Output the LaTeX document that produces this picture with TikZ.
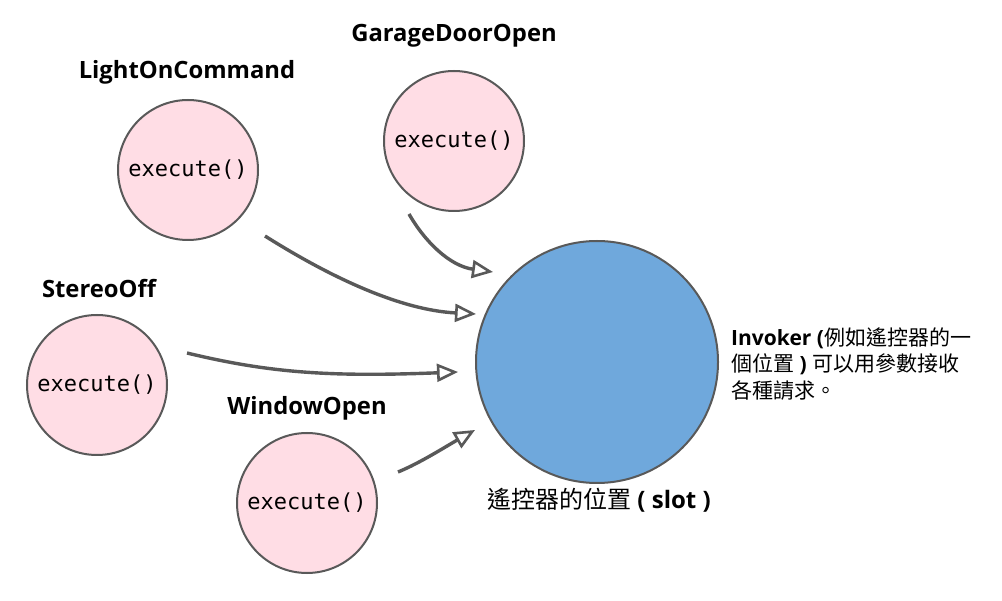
\documentclass[tikz,border=0pt]{standalone}
\usepackage{fontspec}
\setmainfont{Open Sans}
\newfontfamily\cjk{Noto Sans CJK TC}
\newfontfamily\monof{DejaVu Sans Mono}
\usetikzlibrary{arrows.meta}
\definecolor{pinkfill}{RGB}{255,221,229}
\definecolor{bluefill}{RGB}{111,168,220}
\definecolor{edgegray}{RGB}{89,89,89}
\begin{document}
\begin{tikzpicture}[x=1pt,y=-1pt,
  cmd/.style={circle, draw=edgegray, line width=2pt, fill=pinkfill, minimum size=140pt, inner sep=0pt, font=\monof\fontsize{22}{26}\selectfont},
  slotc/.style={circle, draw=edgegray, line width=2pt, fill=bluefill, minimum size=242pt, inner sep=0pt},
  lbl/.style={font=\bfseries\fontsize{23.8}{28}\selectfont, inner sep=0pt},
  conn/.style={draw=edgegray, line width=3.4pt, -{Triangle[length=21pt, width=18pt, fill=white, line width=2.6pt]}}]
\useasboundingbox (0,0) rectangle (1002,601);
% circles
\node[cmd] (light) at (188,170) {execute()};
\node[cmd] (garage) at (454,141) {execute()};
\node[cmd] (stereo) at (97,385) {execute()};
\node[cmd] (window) at (307,503) {execute()};
\node[slotc] (slot) at (597,362) {};
% labels
\node[lbl] (llight) at (187,72) {LightOnCommand};
\node[lbl] (lgarage) at (454,36) {GarageDoorOpen};
\node[lbl] (lstereo) at (99,289) {StereoOff};
\node[lbl] (lwindow) at (307,408) {WindowOpen};
\node[anchor=west, align=left, inner sep=0pt, font=\fontsize{21}{26.5}\selectfont] (inv) at (731,364)
  {{\bfseries Invoker (}{\cjk 例如遙控器的一}\\{\cjk 個位置}{\bfseries\ ) }{\cjk 可以用參數接收}\\{\cjk 各種請求。}};
\node[inner sep=0pt, font=\fontsize{24}{28}\selectfont] (slotlbl) at (599,500)
  {{\cjk 遙控器的位置}{\bfseries\ ( slot )}};
% connector end points
\coordinate (s1) at (265,236); \coordinate (e1) at (476,314);
\coordinate (s2) at (409,214); \coordinate (e2) at (493,272);
\coordinate (s3) at (187,353); \coordinate (e3) at (458,372);
\coordinate (s4) at (398,472); \coordinate (e4) at (475,430);
\draw[conn] (s1) .. controls (330,277) and (400,310) .. (e1);
\draw[conn] (s2) .. controls (425,242) and (450,266) .. (e2);
\draw[conn] (s3) .. controls (270,373) and (330,377) .. (e3);
\draw[conn] (s4) .. controls (420,463) and (445,447) .. (e4);
\end{tikzpicture}
\end{document}
